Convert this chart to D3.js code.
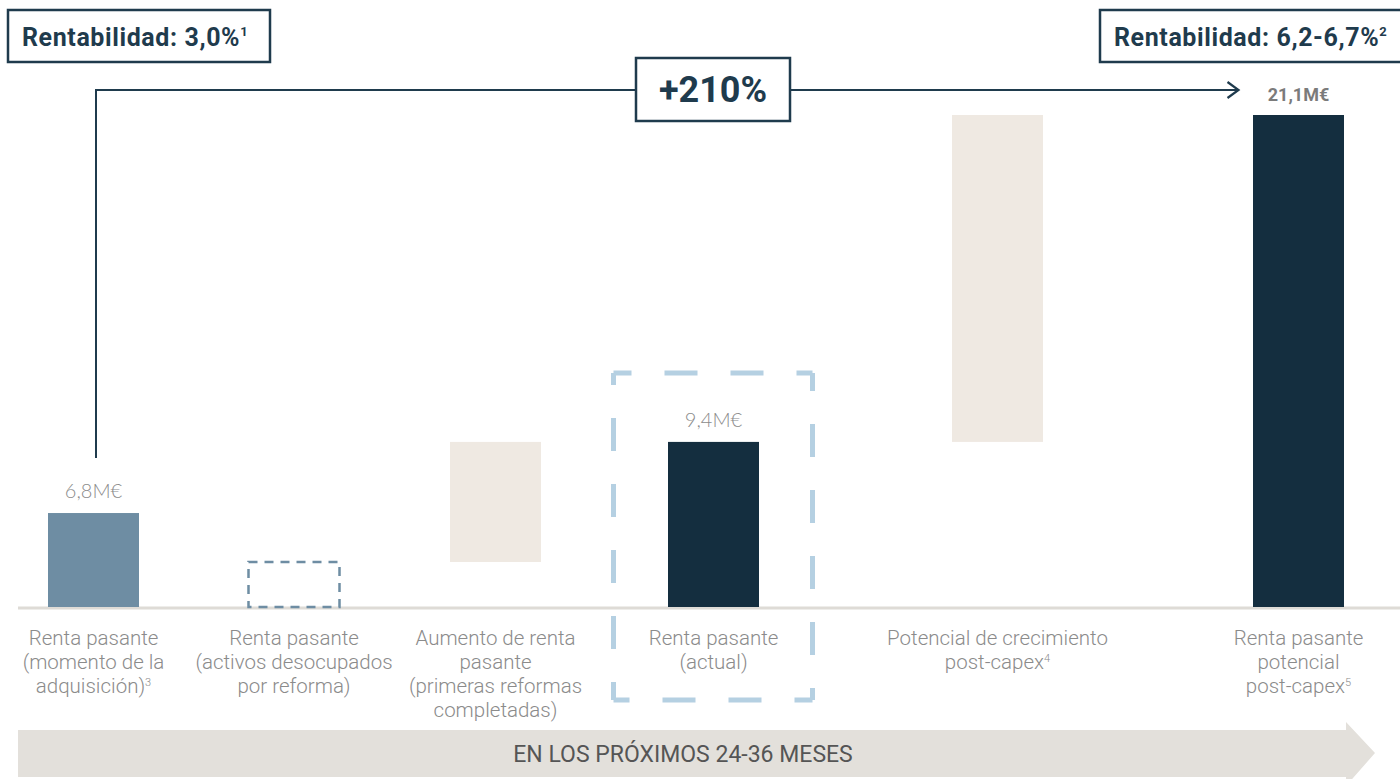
<!DOCTYPE html>
<html>
<head>
<meta charset="utf-8">
<script src="https://cdn.jsdelivr.net/npm/d3@7"></script>
<style>
  html, body { margin: 0; padding: 0; background: #fff; }
  svg { display: block; font-family: Roboto, "Open Sans", sans-serif; }
</style>
</head>
<body>
<div id="chart"></div>
<script>
// categorías (líneas de texto) y notas al pie
const categories = ["acq", "vacant", "gain", "current", "potential", "target"];
const categoryLines = [
  ["Renta pasante", "(momento de la", "adquisición)"],
  ["Renta pasante", "(activos desocupados", "por reforma)"],
  ["Aumento de renta", "pasante", "(primeras reformas", "completadas)"],
  ["Renta pasante", "(actual)"],
  ["Potencial de crecimiento", "post-capex"],
  ["Renta pasante", "potencial", "post-capex"]
];
const footnotes = ["3", "", "", "", "4", "5"];

// gráfico esquemático: tramos (escala 0 - 21,1)
const stepStart = [0, 0, 1.93, 0, 7.08, 0];
const stepEnd = [4.03, 1.93, 7.08, 7.08, 21.1, 21.1];
const valueLabels = ["6,8M€", "", "", "9,4M€", "", "21,1M€"];

const yieldBefore = ["Rentabilidad: 3,0%", "1"];
const yieldAfter = ["Rentabilidad: 6,2-6,7%", "2"];
const growthLabel = "+210%";
const timeLabel = "EN LOS PRÓXIMOS 24-36 MESES";

const W = 1400, H = 779;
const dark = "#1f3b4d", navy = "#142e3f", steel = "#6e8da3", beige = "#efe9e2",
      grey = "#8b8b8b", light = "#b5d0e2";

const svg = d3.select("#chart").append("svg")
  .attr("width", W).attr("height", H);

const x = d3.scaleOrdinal()
  .domain(categories)
  .range([93.5, 294, 495.5, 713.5, 997.5, 1298.5]);
const barW = 91;
const y = d3.scaleLinear().domain([0, 21.1]).range([607, 115]);

const fillOf = {acq: steel, vacant: "none", gain: beige, current: navy, potential: beige, target: navy};

const data = categories.map((c, i) => ({
  key: c, start: stepStart[i], end: stepEnd[i], label: valueLabels[i],
  lines: categoryLines[i], note: footnotes[i]
}));

// recuadro azul discontinuo (actual)
const cx = x("current");
const bx0 = cx - 100, bx1 = cx + 99, by0 = 373, by1 = 700;
svg.append("g")
  .attr("stroke", light).attr("stroke-width", 5)
  .attr("stroke-dasharray", "33 33").attr("stroke-dashoffset", 15)
  .selectAll("line")
  .data([[bx0, by0, bx1, by0], [bx1, by0, bx1, by1], [bx1, by1, bx0, by1], [bx0, by1, bx0, by0]])
  .join("line")
  .attr("x1", d => d[0]).attr("y1", d => d[1])
  .attr("x2", d => d[2]).attr("y2", d => d[3]);

// línea base
svg.append("line")
  .attr("x1", 18).attr("x2", W).attr("y1", y(0) + 1).attr("y2", y(0) + 1)
  .attr("stroke", "#dedbd6").attr("stroke-width", 3);

// barras
svg.append("g").selectAll("rect")
  .data(data)
  .join("rect")
  .attr("x", d => x(d.key) - barW / 2)
  .attr("y", d => y(d.end))
  .attr("width", barW)
  .attr("height", d => y(d.start) - y(d.end))
  .attr("fill", d => fillOf[d.key])
  .attr("stroke", d => d.key === "vacant" ? steel : null)
  .attr("stroke-width", 2.5)
  .attr("stroke-dasharray", d => d.key === "vacant" ? "9 7" : null);

// etiquetas de valor
svg.append("g").selectAll("text")
  .data(data.filter(d => d.label))
  .join("text")
  .attr("x", d => x(d.key))
  .attr("y", d => y(d.end) - (d.key === "target" ? 14 : 15))
  .attr("text-anchor", "middle")
  .attr("font-family", d => d.key === "target" ? "Roboto" : "Lato")
  .attr("font-weight", d => d.key === "target" ? 700 : 300)
  .attr("font-size", d => d.key === "target" ? 18 : 20)
  .attr("fill", d => d.key === "target" ? "#7b7b7b" : grey)
  .text(d => d.label);

// etiquetas de categoría
const cat = svg.append("g").selectAll("text")
  .data(data)
  .join("text")
  .attr("text-anchor", "middle")
  .attr("font-size", 20.5)
  .attr("font-weight", 300)
  .attr("fill", grey);
cat.each(function (d) {
  const t = d3.select(this);
  d.lines.forEach((line, j) => {
    t.append("tspan").attr("x", x(d.key)).attr("y", 645 + j * 24).text(line);
    if (j === d.lines.length - 1 && d.note) {
      t.append("tspan").attr("dy", -7).attr("font-size", 11).text(d.note);
    }
  });
});

// flecha de crecimiento
const x0 = x("acq") + 2.5, x1 = x("target") - 60, ly = 90;
svg.append("path")
  .attr("d", `M${x0},458V${ly}H${x1}`)
  .attr("fill", "none").attr("stroke", dark).attr("stroke-width", 2);
svg.append("path")
  .attr("d", `M${x1 - 11},${ly - 8}L${x1},${ly}L${x1 - 11},${ly + 8}`)
  .attr("fill", "none").attr("stroke", dark).attr("stroke-width", 2.2);

const gBox = svg.append("g");
gBox.append("rect")
  .attr("x", 636).attr("y", 58).attr("width", 154).attr("height", 63)
  .attr("fill", "#fff").attr("stroke", dark).attr("stroke-width", 2.5);
gBox.append("text")
  .attr("x", 713).attr("y", 102).attr("text-anchor", "middle")
  .attr("font-size", 36).attr("font-weight", 700).attr("fill", dark)
  .text(growthLabel);

// recuadros de rentabilidad
function yieldBox(left, width, parts) {
  const g = svg.append("g");
  g.append("rect")
    .attr("x", left).attr("y", 10).attr("width", width).attr("height", 52)
    .attr("fill", "#fff").attr("stroke", dark).attr("stroke-width", 2.5);
  const t = g.append("text")
    .attr("x", left + 14).attr("y", 46)
    .attr("font-size", 25).attr("font-weight", 700).attr("fill", dark)
    .attr("letter-spacing", 0.6);
  t.append("tspan").text(parts[0]);
  t.append("tspan").attr("dy", -10).attr("font-size", 13).attr("letter-spacing", 0).text(parts[1]);
}
yieldBox(8, 262, yieldBefore);
yieldBox(1100, 310, yieldAfter);

// banda temporal
svg.append("path")
  .attr("d", "M18,730H1346V722L1375,753L1346,786V777H18Z")
  .attr("fill", "#e3e0db");
svg.append("text")
  .attr("x", 683).attr("y", 762).attr("text-anchor", "middle")
  .attr("font-size", 23).attr("font-weight", 400).attr("fill", "#555")
  .text(timeLabel);
</script>
</body>
</html>
